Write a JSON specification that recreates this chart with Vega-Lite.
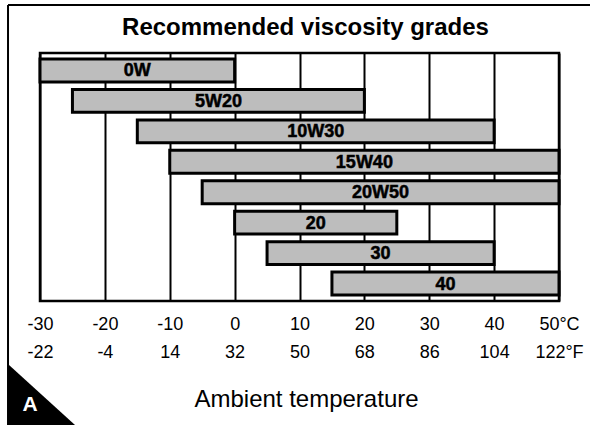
{
  "$schema": "https://vega.github.io/schema/vega-lite/v6.json",
  "autosize": "none",
  "width": 519,
  "height": 248,
  "padding": {"left": 40, "top": 53, "right": 31, "bottom": 124},
  "background": "white",
  "title": {
    "text": "Recommended viscosity grades",
    "fontSize": 24,
    "fontWeight": "bold",
    "font": "Liberation Sans",
    "color": "black",
    "anchor": "middle",
    "frame": "group",
    "offset": 0,
    "dy": 36,
    "dx": 6
  },
  "config": {
    "view": {"stroke": "black", "strokeWidth": 2.5},
    "font": "Liberation Sans"
  },
  "resolve": {"scale": {"y": "independent"}},
  "layer": [
    {
      "data": {
        "values": [
          {"grade": "0W", "lo": -30, "hi": 0},
          {"grade": "5W20", "lo": -25, "hi": 20},
          {"grade": "10W30", "lo": -15, "hi": 40},
          {"grade": "15W40", "lo": -10, "hi": 50},
          {"grade": "20W50", "lo": -5, "hi": 50},
          {"grade": "20", "lo": 0, "hi": 25},
          {"grade": "30", "lo": 5, "hi": 40},
          {"grade": "40", "lo": 15, "hi": 50}
        ]
      },
      "encoding": {
        "y": {
          "field": "grade",
          "type": "nominal",
          "sort": null,
          "axis": null,
          "scale": {"paddingInner": 0.25, "paddingOuter": 0.2}
        }
      },
      "layer": [
        {
          "mark": {"type": "bar", "fill": "#bdbdbd", "stroke": "black", "strokeWidth": 3, "cornerRadius": 0},
          "encoding": {
            "x": {
              "field": "lo",
              "type": "quantitative",
              "scale": {"domain": [-30, 50], "nice": false, "zero": false},
              "axis": {
                "values": [-30, -20, -10, 0, 10, 20, 30, 40, 50],
                "labelExpr": "[datum.value == 50 ? '50°C' : datum.value + '', datum.value == 50 ? '122°F' : round(datum.value * 9 / 5 + 32) + '']",
                "labelFontSize": 18,
                "labelColor": "black",
                "labelLineHeight": 28,
                "labelPadding": 14,
                "labelBaseline": "top",
                "labelOverlap": false,
                "labelFlush": false,
                "labelBound": false,
                "ticks": false,
                "domain": false,
                "grid": true,
                "gridColor": "black",
                "gridWidth": 2,
                "gridOpacity": 1,
                "title": "Ambient temperature",
                "titleFontSize": 24,
                "titleFontWeight": "normal",
                "titleColor": "black",
                "titlePadding": 26,
                "titleX": 266
              }
            },
            "x2": {"field": "hi"}
          }
        },
        {
          "transform": [{"calculate": "(datum.lo + datum.hi) / 2", "as": "mid"}],
          "mark": {"type": "text", "fontSize": 18, "fontWeight": "bold", "color": "black", "stroke": "black", "strokeWidth": 0.5, "align": "center", "baseline": "middle", "dy": 1},
          "encoding": {
            "x": {"field": "mid", "type": "quantitative"},
            "text": {"field": "grade"}
          }
        }
      ]
    },
    {
      "data": {"values": [{"label": "A"}]},
      "layer": [
        {
          "mark": {"type": "rule", "stroke": "black", "strokeWidth": 2},
          "encoding": {
            "x": {"datum": -34.93, "type": "quantitative"},
            "y": {"datum": 1.194, "type": "quantitative", "scale": {"domain": [0, 1], "nice": false, "zero": false}, "axis": null},
            "y2": {"datum": -0.55}
          }
        },
        {
          "mark": {"type": "rule", "stroke": "black", "strokeWidth": 2},
          "encoding": {
            "x": {"datum": -34.93, "type": "quantitative"},
            "x2": {"datum": 55},
            "y": {"datum": 1.194, "type": "quantitative"}
          }
        },
        {
          "mark": {"type": "point", "shape": "M -1 -0.82 L -1 1 L 1 1 Z", "filled": true, "fill": "black", "opacity": 1, "strokeWidth": 0, "size": 4356},
          "encoding": {
            "x": {"datum": -29.69, "type": "quantitative"},
            "y": {"datum": -0.367, "type": "quantitative"}
          }
        },
        {
          "mark": {"type": "text", "fontSize": 21, "fontWeight": "bold", "color": "white", "align": "center", "baseline": "middle"},
          "encoding": {
            "x": {"datum": -31.54, "type": "quantitative"},
            "y": {"datum": -0.419, "type": "quantitative"},
            "text": {"field": "label"}
          }
        }
      ]
    }
  ]
}
